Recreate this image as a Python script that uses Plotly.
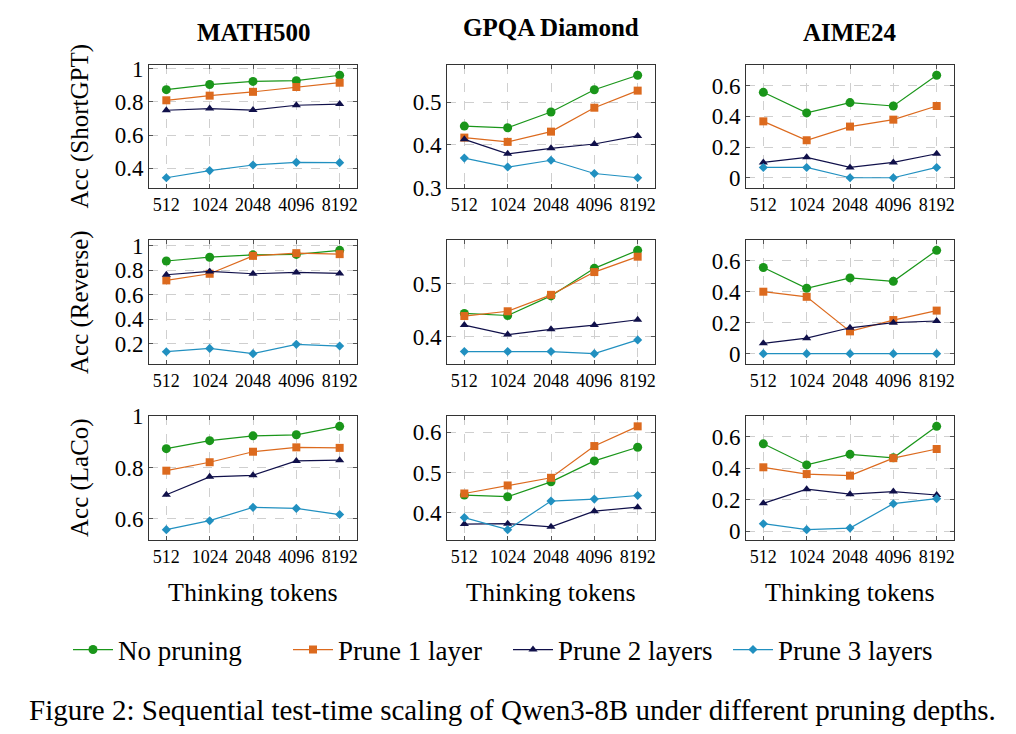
import plotly.graph_objects as go

tokens = ["512", "1024", "2048", "4096", "8192"]
datasets = ["MATH500", "GPQA Diamond", "AIME24"]
methods = ["ShortGPT", "Reverse", "LaCo"]
series_names = ["No pruning", "Prune 1 layer", "Prune 2 layers", "Prune 3 layers"]

# no pruning is the same baseline in every row
no_prune_math500 = [0.874, 0.905, 0.924, 0.928, 0.961]
no_prune_gpqa = [0.444, 0.440, 0.477, 0.529, 0.563]
no_prune_aime24 = [0.556, 0.422, 0.489, 0.467, 0.667]

# ShortGPT
shortgpt_math500_p1 = [0.810, 0.838, 0.861, 0.890, 0.916]
shortgpt_math500_p2 = [0.750, 0.760, 0.751, 0.780, 0.787]
shortgpt_math500_p3 = [0.343, 0.386, 0.420, 0.436, 0.434]
shortgpt_gpqa_p1 = [0.417, 0.407, 0.431, 0.487, 0.527]
shortgpt_gpqa_p2 = [0.413, 0.379, 0.392, 0.402, 0.421]
shortgpt_gpqa_p3 = [0.369, 0.348, 0.364, 0.333, 0.323]
shortgpt_aime24_p1 = [0.367, 0.244, 0.333, 0.378, 0.467]
shortgpt_aime24_p2 = [0.100, 0.133, 0.067, 0.100, 0.156]
shortgpt_aime24_p3 = [0.067, 0.067, 0.0, 0.0, 0.067]

# Reverse
reverse_math500_p1 = [0.716, 0.770, 0.916, 0.938, 0.930]
reverse_math500_p2 = [0.762, 0.789, 0.770, 0.781, 0.773]
reverse_math500_p3 = [0.135, 0.162, 0.119, 0.195, 0.181]
reverse_gpqa_p1 = [0.439, 0.448, 0.479, 0.522, 0.551]
reverse_gpqa_p2 = [0.422, 0.404, 0.414, 0.422, 0.432]
reverse_gpqa_p3 = [0.372, 0.372, 0.372, 0.368, 0.394]
reverse_aime24_p1 = [0.400, 0.367, 0.144, 0.217, 0.278]
reverse_aime24_p2 = [0.067, 0.100, 0.167, 0.200, 0.211]
reverse_aime24_p3 = [0.0, 0.0, 0.0, 0.0, 0.0]

# LaCo
laco_math500_p1 = [0.788, 0.821, 0.862, 0.879, 0.877]
laco_math500_p2 = [0.694, 0.764, 0.770, 0.826, 0.829]
laco_math500_p3 = [0.558, 0.593, 0.645, 0.641, 0.617]
laco_gpqa_p1 = [0.448, 0.468, 0.487, 0.566, 0.615]
laco_gpqa_p2 = [0.372, 0.373, 0.365, 0.404, 0.414]
laco_gpqa_p3 = [0.388, 0.358, 0.429, 0.434, 0.443]
laco_aime24_p1 = [0.407, 0.364, 0.354, 0.465, 0.523]
laco_aime24_p2 = [0.178, 0.268, 0.236, 0.253, 0.231]
laco_aime24_p3 = [0.049, 0.011, 0.021, 0.176, 0.208]

# y tick values per panel (row = method, col = dataset)
yticks = [
    [[0.4, 0.6, 0.8, 1], [0.3, 0.4, 0.5], [0, 0.2, 0.4, 0.6]],
    [[0.2, 0.4, 0.6, 0.8, 1], [0.4, 0.5], [0, 0.2, 0.4, 0.6]],
    [[0.6, 0.8, 1], [0.4, 0.5, 0.6], [0, 0.2, 0.4, 0.6]],
]

panels = [
    [
        [no_prune_math500, shortgpt_math500_p1, shortgpt_math500_p2, shortgpt_math500_p3],
        [no_prune_gpqa, shortgpt_gpqa_p1, shortgpt_gpqa_p2, shortgpt_gpqa_p3],
        [no_prune_aime24, shortgpt_aime24_p1, shortgpt_aime24_p2, shortgpt_aime24_p3],
    ],
    [
        [no_prune_math500, reverse_math500_p1, reverse_math500_p2, reverse_math500_p3],
        [no_prune_gpqa, reverse_gpqa_p1, reverse_gpqa_p2, reverse_gpqa_p3],
        [no_prune_aime24, reverse_aime24_p1, reverse_aime24_p2, reverse_aime24_p3],
    ],
    [
        [no_prune_math500, laco_math500_p1, laco_math500_p2, laco_math500_p3],
        [no_prune_gpqa, laco_gpqa_p1, laco_gpqa_p2, laco_gpqa_p3],
        [no_prune_aime24, laco_aime24_p1, laco_aime24_p2, laco_aime24_p3],
    ],
]

colors = ["#1a961a", "#dc6a1e", "#10104a", "#2190c0"]
symbols = ["circle", "square", "triangle-up", "diamond"]
msizes = [9, 8, 8, 7]

# page body has an 8px margin, so the figure is a bit smaller than the window
OFF = 8
W, H = 1000, 718
FONT = "Liberation Serif"

# panel boxes in window pixels
col_px = [(149, 357), (447, 655), (746, 954)]
row_px = [(65, 188), (240, 364), (416, 540)]


def px_x(x):
    return (x - OFF) / W


def px_y(y):
    return 1 - (y - OFF) / H


fig = go.Figure()
n = 0
for r in range(3):
    for c in range(3):
        n += 1
        xa = "x" if n == 1 else f"x{n}"
        ya = "y" if n == 1 else f"y{n}"
        vals = []
        for s in range(4):
            y = panels[r][c][s]
            vals += y
            fig.add_trace(go.Scatter(
                x=tokens, y=y, xaxis=xa, yaxis=ya,
                mode="lines+markers", name=series_names[s],
                legendgroup=series_names[s], showlegend=(n == 1),
                line=dict(color=colors[s], width=1.2),
                marker=dict(symbol=symbols[s], size=msizes[s], color=colors[s]),
            ))
        # pgfplots style 10% enlarged limits
        lo, hi = min(vals), max(vals)
        pad = (hi - lo) * 0.1
        axis_style = dict(
            showline=True, linecolor="#333", linewidth=1, mirror="ticks",
            ticks="inside", ticklen=4, tickcolor="#555",
            showgrid=True, gridcolor="#cfcfcf", griddash="dash", gridwidth=1,
            zeroline=False, automargin=False,
        )
        x0, x1 = col_px[c]
        y0, y1 = row_px[r]
        fig.layout[xa.replace("x", "xaxis")] = dict(
            axis_style, domain=[px_x(x0), px_x(x1)], anchor=ya, type="category",
            range=[-0.4, 4.4], tickfont=dict(family=FONT, size=18, color="black"),
        )
        fig.layout[ya.replace("y", "yaxis")] = dict(
            axis_style, domain=[px_y(y1), px_y(y0)], anchor=xa,
            range=[lo - pad, hi + pad], tickmode="array",
            tickvals=yticks[r][c], ticktext=[f"{v:g}" for v in yticks[r][c]],
            tickfont=dict(family=FONT, size=23, color="black"),
        )


def label(text, x, y, size, angle=0):
    return dict(text=text, x=px_x(x), y=px_y(y), xref="paper", yref="paper",
                xanchor="center", yanchor="middle", textangle=angle, showarrow=False,
                font=dict(family=FONT, size=size, color="black"))


ann = []
title_y = [32, 27, 32]
for c, name in enumerate(datasets):
    cx = (col_px[c][0] + col_px[c][1]) / 2
    ann.append(label(f"<b>{name}</b>", cx, title_y[c], 25))
    ann.append(label("Thinking tokens", cx, 592, 26))
for r, m in enumerate(methods):
    cy = (row_px[r][0] + row_px[r][1]) / 2
    ann.append(label(f"Acc ({m})", 80, cy, 25, -90))
ann.append(label("Figure 2: Sequential test-time scaling of Qwen3-8B under different pruning depths.",
                 512, 710, 29))

fig.update_layout(
    width=W, height=H, margin=dict(l=0, r=0, t=0, b=0, autoexpand=False),
    plot_bgcolor="white", paper_bgcolor="white",
    annotations=ann,
    legend=dict(orientation="h", x=px_x(508), xanchor="center", y=px_y(650), yanchor="middle",
                font=dict(family=FONT, size=27, color="black"), itemwidth=40,
                entrywidth=165, bgcolor="rgba(0,0,0,0)"),
)

fig.write_html("out.html")
